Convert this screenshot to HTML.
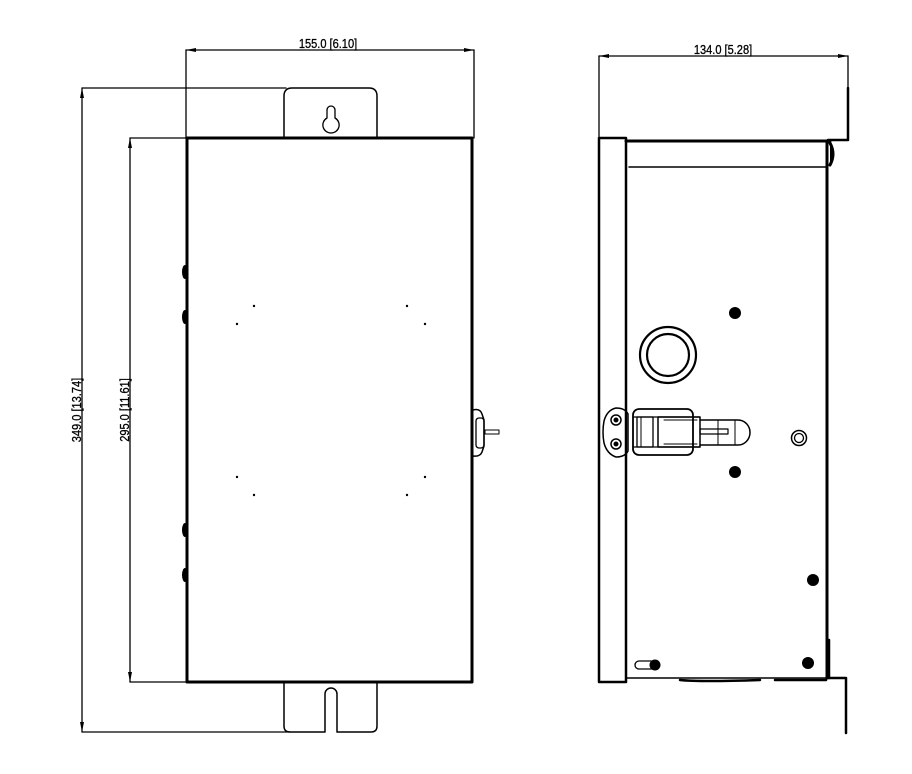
<!DOCTYPE html>
<html><head><meta charset="utf-8"><style>
html,body{margin:0;padding:0;background:#fff;}
svg{display:block}
text{font-family:"Liberation Sans",sans-serif;font-size:13px;fill:#000;stroke:#000;stroke-width:0.3}
</style></head><body>
<svg width="912" height="774" viewBox="0 0 912 774" xmlns="http://www.w3.org/2000/svg">
<g fill="none" stroke="#000" stroke-linejoin="round" stroke-linecap="round">
<g stroke-width="1.3">
<line x1="186" y1="50" x2="474" y2="50"/>
<line x1="186" y1="50" x2="186" y2="138"/>
<line x1="474" y1="50" x2="474" y2="138"/>
<line x1="82" y1="88" x2="82" y2="732"/>
<line x1="82" y1="88" x2="286" y2="88"/>
<line x1="82" y1="732" x2="290" y2="732"/>
<line x1="130" y1="138" x2="130" y2="682"/>
<line x1="130" y1="138" x2="187" y2="138"/>
<line x1="130" y1="682" x2="187" y2="682"/>
</g>
<g fill="#000" stroke="none">
<polygon points="186,50 196,48 196,52"/><polygon points="474,50 464,48 464,52"/>
<polygon points="82,88 80,98 84,98"/><polygon points="82,732 80,722 84,722"/>
<polygon points="130,138 128,148 132,148"/><polygon points="130,682 128,672 132,672"/>
</g>
<path d="M284 138 V96 Q284 88 292 88 H369 Q377 88 377 96 V138" stroke-width="1.5"/>
<path d="M331 133 A8 8 0 0 1 327 118 V110 A4 4 0 0 1 335 110 V118 A8 8 0 0 1 331 133 Z" stroke-width="1.3"/>
<path d="M284 682 V726 Q284 732 290 732 H325 V694 A6 6 0 0 1 337 694 V732 H371 Q377 732 377 726 V682" stroke-width="1.5"/>
<rect x="187" y="138" width="285" height="544" stroke-width="3"/>
<g fill="#000" stroke="none">
<ellipse cx="185" cy="272" rx="3" ry="7"/><ellipse cx="185" cy="317" rx="3" ry="7"/>
<ellipse cx="185" cy="530" rx="3" ry="7"/><ellipse cx="185" cy="575" rx="3" ry="7"/>
<circle cx="254" cy="306" r="1.2"/><circle cx="237" cy="324" r="1.2"/>
<circle cx="407" cy="306" r="1.2"/><circle cx="425" cy="324" r="1.2"/>
<circle cx="237" cy="477" r="1.2"/><circle cx="254" cy="495" r="1.2"/>
<circle cx="407" cy="495" r="1.2"/><circle cx="425" cy="477" r="1.2"/>
</g>
<path d="M473 410 Q480 408 482 414 L484 420 V446 L482 452 Q480 457 473 456" stroke-width="1.5"/>
<rect x="476" y="418" width="8" height="30" rx="3" stroke-width="1.3"/>
<rect x="485" y="430" width="14" height="4" stroke-width="1"/>
<g stroke-width="1.3">
<line x1="599" y1="56" x2="848" y2="56"/>
<line x1="599" y1="56" x2="599" y2="138"/>
<line x1="848" y1="56" x2="848" y2="88"/>
</g>
<g fill="#000" stroke="none"><polygon points="599,56 609,54 609,58"/><polygon points="848,56 838,54 838,58"/></g>
<path d="M848 88 V140 H828" stroke-width="2.5"/>
<path d="M599 682 V138 H626 V682 Z" stroke-width="2.5"/>
<line x1="626" y1="141" x2="830" y2="141" stroke-width="3"/>
<line x1="629" y1="167" x2="827" y2="167" stroke-width="1.5"/>
<line x1="827" y1="141" x2="827" y2="678" stroke-width="3"/>
<path d="M830 143 Q836 154 830 165" stroke-width="3" fill="#000"/>
<line x1="626" y1="678" x2="827" y2="678" stroke-width="1.5"/>
<path d="M680 680 Q700 682 760 680 M775 680 H826" stroke-width="2.5"/>
<path d="M827 678 H846 V733" stroke-width="2.5"/>
<line x1="829" y1="640" x2="829" y2="678" stroke-width="2.5"/>
<circle cx="668" cy="355" r="28" stroke-width="2.2"/>
<circle cx="668" cy="355" r="21" stroke-width="2.2"/>
<circle cx="799" cy="438" r="7.5" stroke-width="1.5"/>
<circle cx="799" cy="438" r="4.5" stroke-width="1.3"/>
<g fill="#000" stroke="none">
<circle cx="735" cy="313" r="6"/><circle cx="735" cy="472" r="6"/>
<circle cx="813" cy="580" r="6"/><circle cx="808" cy="663" r="6"/>
<circle cx="655" cy="665" r="5.5"/>
</g>
<rect x="635" y="661" width="20" height="8" rx="4" stroke-width="1.3"/>
<path d="M616 408 Q625 408 628 414 V451 Q625 457 616 457 Q607 454 604 443 Q602 432 604 421 Q607 410 616 408 Z" stroke-width="1.5"/>
<circle cx="616" cy="420" r="5" stroke-width="1.5"/><circle cx="616" cy="420" r="2" fill="#000"/>
<circle cx="616" cy="444" r="5" stroke-width="1.5"/><circle cx="616" cy="444" r="2" fill="#000"/>
<rect x="633" y="409" width="60" height="46" rx="6" stroke-width="1.8"/>
<line x1="633" y1="417" x2="700" y2="417" stroke-width="1.3"/>
<line x1="633" y1="447" x2="700" y2="447" stroke-width="1.3"/>
<rect x="637" y="417" width="16" height="30" stroke-width="1.3"/>
<line x1="641" y1="417" x2="641" y2="447" stroke-width="1"/>
<rect x="658" y="417" width="42" height="30" stroke-width="1.5"/>
<line x1="664" y1="420" x2="697" y2="420" stroke-width="1"/>
<line x1="664" y1="444" x2="697" y2="444" stroke-width="1"/>
<path d="M700 420 H738 A12 12.5 0 0 1 738 445 H700" stroke-width="1.5"/>
<line x1="718" y1="420" x2="718" y2="445" stroke-width="1"/>
<line x1="735" y1="420" x2="735" y2="445" stroke-width="1"/>
<rect x="700" y="429" width="28" height="5" stroke-width="1.2"/>
</g>
<text transform="translate(328,48) scale(0.85,1)" text-anchor="middle">155.0 [6.10]</text>
<text transform="translate(723,54) scale(0.85,1)" text-anchor="middle">134.0 [5.28]</text>
<text transform="translate(81,410) rotate(-90) scale(0.85,1)" text-anchor="middle">349.0 [13.74]</text>
<text transform="translate(129,410) rotate(-90) scale(0.85,1)" text-anchor="middle">295.0 [11.61]</text>
</svg>
</body></html>
